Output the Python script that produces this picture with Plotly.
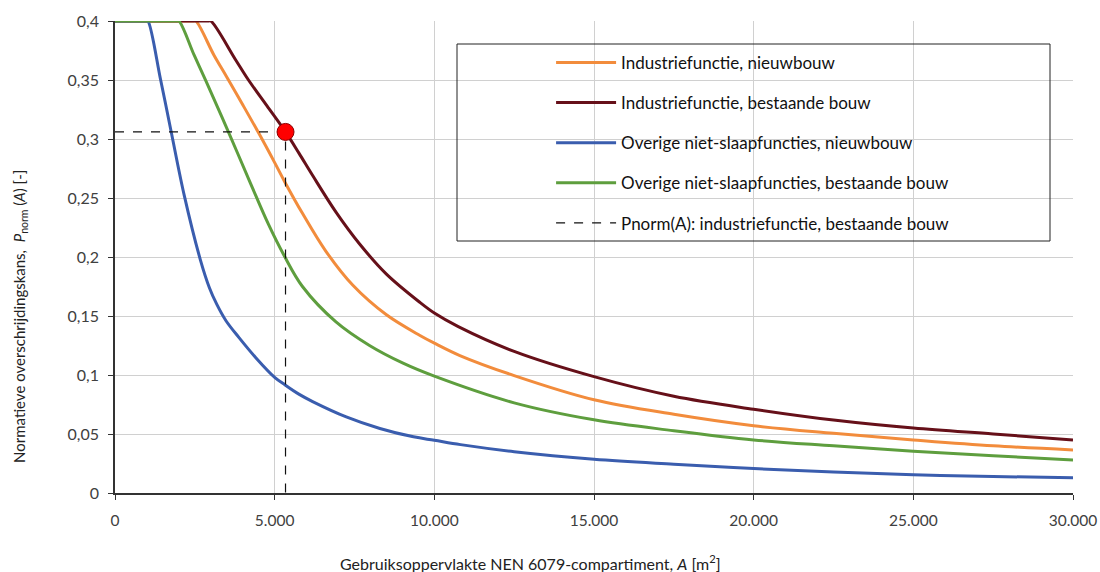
import plotly.graph_objects as go

# ---- data ----
A_ind_nb = [0, 2450, 2530, 3100, 3490, 4000, 4500, 5000, 5330, 5870, 6600, 7450, 8500, 9550, 10000, 10800,
            12500, 15000, 17500, 20000, 22500, 25000, 27500, 30000]
P_ind_nb = [0.4, 0.4, 0.4, 0.371, 0.353, 0.329, 0.305, 0.280, 0.263, 0.237, 0.205, 0.176, 0.151, 0.1335, 0.127,
            0.1165, 0.0995, 0.079, 0.0667, 0.057, 0.0506, 0.045, 0.040, 0.0365]

A_ind_bb = [0, 2920, 3000, 3780, 4180, 4760, 5340, 5760, 6190, 6920, 7660, 8500, 9550, 10000, 10750,
            12500, 15000, 17500, 20000, 22500, 25000, 27500, 30000]
P_ind_bb = [0.4, 0.4, 0.4, 0.367, 0.350, 0.328, 0.306, 0.288, 0.269, 0.238, 0.211, 0.1855, 0.1615, 0.1525, 0.141,
            0.120, 0.0986, 0.082, 0.071, 0.0618, 0.055, 0.050, 0.045]

A_ov_nb = [0, 980, 1030, 1430, 1753, 2170, 2680, 2956, 3185, 3475, 3890, 4409, 5000, 5290, 5757, 6189, 7242, 8295,
           9347, 10000, 10821, 12500, 15000, 17500, 20000, 22500, 25000, 27500, 30000]
P_ov_nb = [0.4, 0.4, 0.4, 0.350, 0.307, 0.252, 0.197, 0.174, 0.160, 0.146, 0.1315, 0.1147, 0.098, 0.0923, 0.0838,
           0.0775, 0.0645, 0.0547, 0.0476, 0.0447, 0.0410, 0.0350, 0.0286, 0.0244, 0.0207, 0.0177, 0.0155, 0.0140,
           0.0129]

A_ov_bb = [0, 1920, 2000, 2480, 2850, 3520, 4250, 4800, 5300, 5870, 6920, 7970, 9020, 10000, 12500,
           15000, 17500, 20000, 22500, 25000, 27500, 30000]
P_ov_bb = [0.4, 0.4, 0.4, 0.371, 0.349, 0.308, 0.262, 0.228, 0.201, 0.175, 0.145, 0.125, 0.110, 0.099, 0.0764,
           0.062, 0.0528, 0.045, 0.040, 0.0354, 0.0315, 0.028]

point_A = 5340
point_P = 0.306

names = ["Industriefunctie, nieuwbouw", "Industriefunctie, bestaande bouw",
         "Overige niet-slaapfuncties, nieuwbouw", "Overige niet-slaapfuncties, bestaande bouw"]
dash_name = "Pnorm(A): industriefunctie, bestaande bouw"
colors = ["#F28C3C", "#661019", "#3A5DAE", "#5E9E3E"]

FONT = "Lato"
TXT = "#404040"

fig = go.Figure()
series = [(A_ind_nb, P_ind_nb), (A_ind_bb, P_ind_bb), (A_ov_nb, P_ov_nb), (A_ov_bb, P_ov_bb)]
for i, ((xs, ys), nm, c) in enumerate(zip(series, names, colors)):
    fig.add_trace(go.Scatter(x=xs, y=ys, mode="lines", name=nm, legendgroup=f"g{i}",
                             line=dict(color=c, width=3, shape="spline", smoothing=1.0)))

fig.add_trace(go.Scatter(x=[0, point_A, point_A], y=[point_P, point_P, 0], mode="lines",
                         name=dash_name, legendgroup="g4",
                         line=dict(color="#111111", width=1.2, dash="dash")))
fig.add_trace(go.Scatter(x=[point_A], y=[point_P], mode="markers", showlegend=False,
                         marker=dict(color="#FF0000", size=17, line=dict(color="#8B0000", width=1))))

fig.update_layout(
    width=1100, height=572,
    margin=dict(l=115, r=27, t=21, b=79),
    paper_bgcolor="white", plot_bgcolor="white",
    separators=",.",
    font=dict(family=FONT, size=15, color=TXT),
    showlegend=True,
    legend=dict(x=0.4552, y=0.9493, xanchor="left", yanchor="top",
                bgcolor="rgba(0,0,0,0)", borderwidth=0,
                font=dict(family=FONT, size=17, color="#111111"),
                tracegroupgap=15, itemwidth=60),
    shapes=[dict(type="rect", xref="paper", yref="paper",
                 x0=(457 - 115) / 958, x1=(1050 - 115) / 958,
                 y0=(493 - 241) / 472, y1=(493 - 44) / 472,
                 line=dict(color="#222222", width=1), fillcolor="rgba(0,0,0,0)", layer="above")],
    annotations=[
        dict(text="Gebruiksoppervlakte NEN 6079-compartiment, <i>A</i> [m<sup>2</sup>]",
             xref="paper", yref="paper", x=(530 - 115) / 958, y=-(562 - 493) / 472,
             xanchor="center", yanchor="middle", showarrow=False,
             font=dict(family=FONT, size=16, color="#222222")),
        dict(text="Normatieve overschrijdingskans,  <i>P</i><sub>norm</sub> (<i>A</i>) [-]",
             xref="paper", yref="paper", x=-(115 - 20) / 958, y=(493 - 317) / 472,
             xanchor="center", yanchor="middle", textangle=-90, showarrow=False,
             font=dict(family=FONT, size=15, color="#222222")),
    ],
)

fig.update_xaxes(range=[0, 30000], dtick=5000, tick0=0, tickformat=",d", automargin=False,
                 showgrid=True, gridcolor="#D0D0D0", gridwidth=1,
                 showline=True, linecolor="#333333", linewidth=1.5,
                 ticks="outside", ticklen=5, tickcolor="#333333",
                 zeroline=False, ticklabelstandoff=8,
                 tickfont=dict(family=FONT, size=15.5, color=TXT))
fig.update_yaxes(range=[0, 0.4], dtick=0.05, tick0=0, automargin=False,
                 showgrid=True, gridcolor="#D0D0D0", gridwidth=1,
                 showline=True, linecolor="#333333", linewidth=1.5,
                 ticks="outside", ticklen=5, tickcolor="#333333",
                 zeroline=False, ticklabelstandoff=6,
                 tickfont=dict(family=FONT, size=16, color=TXT))

fig.write_html("out.html", config={"displayModeBar": False},
               post_script="document.body.style.margin='0px';")
